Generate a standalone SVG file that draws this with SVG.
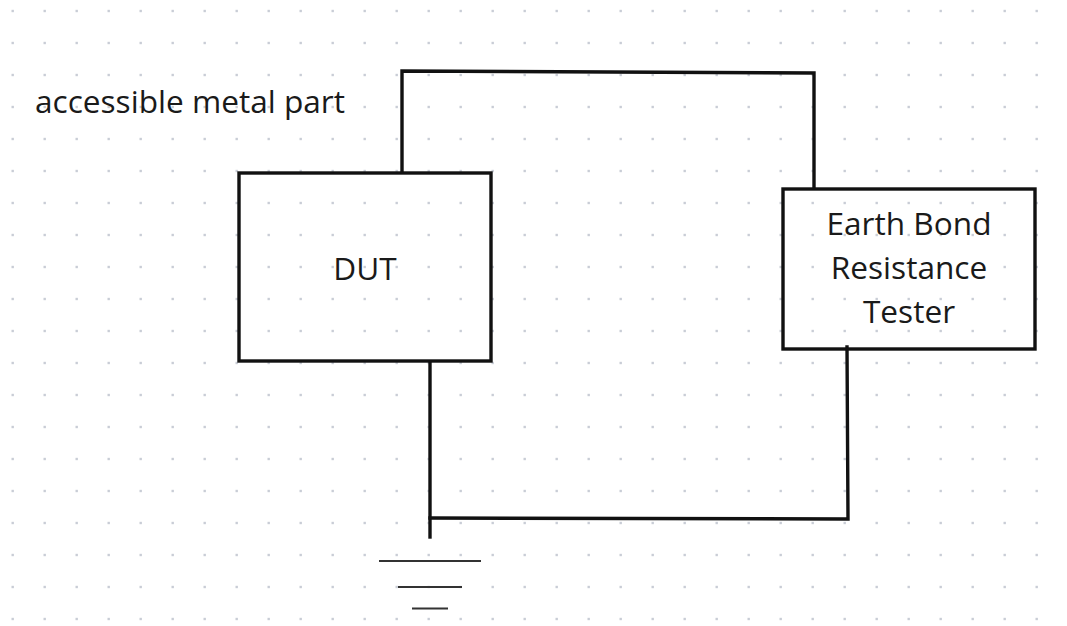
<svg xmlns="http://www.w3.org/2000/svg" width="1067" height="626" viewBox="0 0 1067 626">
  <defs>
    <pattern id="dots" x="0" y="0" width="32" height="32" patternUnits="userSpaceOnUse">
      <rect x="11.5" y="9.8" width="2.4" height="2.4" fill="#c9cdd6"/>
    </pattern>
    <style>
      .box { fill: none; stroke: #111; stroke-width: 3.4; }
      .wire { fill: none; stroke: #111; stroke-width: 3.4; stroke-linejoin: miter; stroke-linecap: square; }
      .gnd { stroke: #333; stroke-width: 2.2; }
      .lbl { font-family: "Open Sans", "Noto Sans", "Liberation Sans", sans-serif; font-size: 31.6px; fill: #1a1a1a; }
      .mid { text-anchor: middle; }
    </style>
  </defs>
  <rect width="1067" height="626" fill="#ffffff"/>
  <rect width="1067" height="626" fill="url(#dots)"/>

  <g id="connectors">
    <polyline class="wire" points="402,172 402,71 814,73 814,188"/>
    <polyline class="wire" points="430,362 430,537"/>
    <polyline class="wire" points="430,518 848,519 847,347"/>
  </g>

  <g id="ground">
    <line class="gnd" x1="379" y1="561" x2="481" y2="561"/>
    <line class="gnd" x1="398" y1="587" x2="462" y2="587"/>
    <line class="gnd" x1="412" y1="608.5" x2="448" y2="608.5"/>
  </g>

  <g id="label-metal">
    <text class="lbl" x="35" y="113">accessible metal part</text>
  </g>

  <g id="dut">
    <rect class="box" x="239" y="173" width="252" height="188"/>
    <text class="lbl mid" x="365" y="280">DUT</text>
  </g>

  <g id="tester">
    <rect class="box" x="783" y="189" width="252" height="160"/>
    <text class="lbl mid" x="909" y="235">Earth Bond</text>
    <text class="lbl mid" x="909" y="279">Resistance</text>
    <text class="lbl mid" x="909" y="323">Tester</text>
  </g>
</svg>
